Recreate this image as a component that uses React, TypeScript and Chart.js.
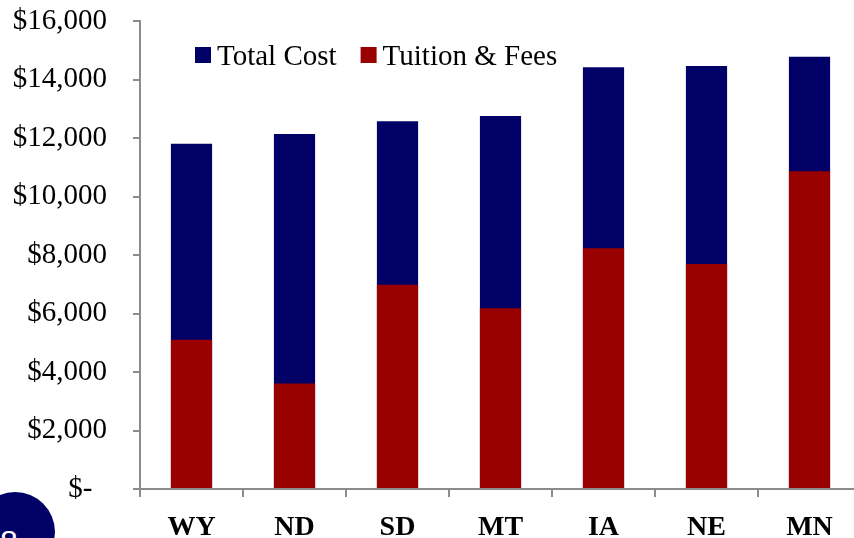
import React, { useEffect, useRef } from "react";
import { Chart, registerables } from "chart.js";

Chart.register(...registerables);

const categories = ["WY", "ND", "SD", "MT", "IA", "NE", "MN"];
const totalCost = [11800, 12140, 12570, 12750, 14420, 14460, 14780];
const tuitionFees = [5100, 3610, 6985, 6180, 8230, 7690, 10860];
const yTicks = [0, 2000, 4000, 6000, 8000, 10000, 12000, 14000, 16000];

const NAVY = "#000066";
const RED = "#990000";
const AXIS = "#8c8c8c";
const SERIF = '"Liberation Serif", "Times New Roman", serif';

const inlineLegend = {
  id: "inlineLegend",
  afterDraw(chart: any) {
    const ctx = chart.ctx;
    ctx.save();
    ctx.font = `29px ${SERIF}`;
    ctx.textBaseline = "alphabetic";
    ctx.textAlign = "left";
    let x = chart.chartArea.left + 55;
    chart.data.datasets.forEach((ds: any) => {
      ctx.fillStyle = ds.backgroundColor;
      ctx.fillRect(x, 47, 16, 16);
      x += 22;
      ctx.fillStyle = "#000";
      ctx.fillText(ds.label, x, 65);
      x += ctx.measureText(ds.label).width + 24;
    });
    ctx.restore();
  },
};

function fmt(v: number) {
  if (v === 0) return "$-\u00a0\u00a0";
  return "$" + v.toLocaleString("en-US");
}

export default function App() {
  const ref = useRef<HTMLCanvasElement | null>(null);

  useEffect(() => {
    if (!ref.current) return;
    const chart = new Chart(ref.current, {
      type: "bar",
      data: {
        labels: categories,
        datasets: [
          {
            label: "Total Cost",
            data: totalCost,
            backgroundColor: NAVY,
            order: 2,
            barPercentage: 0.4,
            categoryPercentage: 1.0,
          },
          {
            label: "Tuition & Fees",
            data: tuitionFees,
            backgroundColor: RED,
            order: 1,
            barPercentage: 0.4,
            categoryPercentage: 1.0,
          },
        ],
      },
      options: {
        animation: false,
        responsive: true,
        maintainAspectRatio: false,
        layout: { padding: { top: 0, right: 1, bottom: 0, left: 0 } },
        plugins: {
          legend: { display: false },
          tooltip: { enabled: false },
        },
        scales: {
          x: {
            stacked: true,
            grid: {
              drawOnChartArea: false,
              drawTicks: true,
              tickLength: 8,
              color: AXIS,
              lineWidth: 2,
              offset: true,
            },
            border: { display: true, color: AXIS, width: 2 },
            ticks: {
              color: "#000",
              font: { family: SERIF, size: 28, weight: "bold" },
              padding: 14,
              maxRotation: 0,
              autoSkip: false,
            },
            afterFit: (s: any) => {
              s.height = 49;
            },
          },
          y: {
            stacked: false,
            min: 0,
            max: 16000,
            afterBuildTicks: (s: any) => {
              s.ticks = yTicks.map((v) => ({ value: v }));
            },
            grid: {
              drawOnChartArea: false,
              drawTicks: true,
              tickLength: 7,
              color: AXIS,
              lineWidth: 2,
            },
            border: { display: true, color: AXIS, width: 2 },
            ticks: {
              color: "#000",
              font: { family: SERIF, size: 29 },
              padding: 26,
              callback: (v: any) => fmt(Number(v)),
            },
            afterFit: (s: any) => {
              s.width = 140;
              s.paddingTop = 21;
              s.paddingBottom = 0;
            },
          },
        },
      },
      plugins: [inlineLegend],
    });
    return () => chart.destroy();
  }, []);

  return (
    <div
      style={{
        position: "fixed",
        left: 0,
        top: 0,
        width: 854,
        height: 538,
        overflow: "hidden",
        background: "#fff",
      }}
    >
      <div style={{ position: "absolute", left: 0, top: 0, width: 862, height: 538 }}>
        <canvas ref={ref} />
      </div>
      <div
        style={{
          position: "absolute",
          left: -25,
          top: 492,
          width: 80,
          height: 80,
          borderRadius: "50%",
          background: NAVY,
          color: "#fff",
          fontFamily: '"Liberation Sans", sans-serif',
          fontSize: 32,
          lineHeight: "80px",
          textAlign: "center",
        }}
      >
        <span style={{ position: "relative", left: -6, top: 10 }}>8</span>
      </div>
    </div>
  );
}
